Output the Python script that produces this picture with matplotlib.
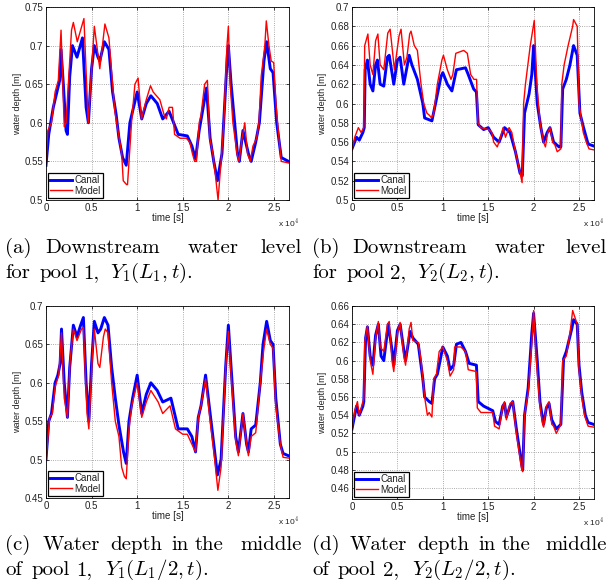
"""
plot.py - canal vs model water depth, two pools, four panels (a)-(d).
Writes out.png (610x588).
"""
import matplotlib

matplotlib.use("Agg")
import matplotlib.pyplot as plt

BLUE, RED = "#0000ff", "#ff0000"

# ---- (a) downstream level pool 1; times in units of 1e4 s
A_CANAL_T = [0, 0.03, 0.08, 0.12, 0.15, 0.165, 0.19, 0.22, 0.235, 0.26, 0.29, 0.34, 0.40,
             0.44, 0.465, 0.5, 0.53, 0.57, 0.59, 0.64, 0.69, 0.73, 0.77, 0.8, 0.84, 0.88,
             0.92, 1.0, 1.05, 1.1, 1.15, 1.22, 1.28, 1.35, 1.40, 1.45, 1.55, 1.6, 1.64,
             1.68, 1.76, 1.80, 1.84, 1.88, 1.93, 1.99, 2.0, 2.03, 2.1, 2.12, 2.16, 2.22,
             2.25, 2.3, 2.34, 2.39, 2.42, 2.46, 2.49, 2.53, 2.58, 2.66]
A_CANAL_Y = [0.545, 0.585, 0.62, 0.64, 0.655, 0.695, 0.65, 0.59, 0.585, 0.66, 0.70, 0.685,
             0.71, 0.62, 0.60, 0.67, 0.70, 0.685, 0.68, 0.705, 0.695, 0.64, 0.61, 0.58,
             0.555, 0.545, 0.60, 0.64, 0.605, 0.625, 0.635, 0.625, 0.605, 0.615, 0.60,
             0.585, 0.583, 0.57, 0.553, 0.59, 0.645, 0.58, 0.55, 0.525, 0.56, 0.69, 0.70,
             0.65, 0.56, 0.55, 0.59, 0.56, 0.55, 0.575, 0.60, 0.68, 0.705, 0.67, 0.665,
             0.60, 0.555, 0.55]
A_MODEL_T = [0, 0.02, 0.06, 0.1, 0.135, 0.165, 0.2, 0.22, 0.28, 0.30, 0.343, 0.416, 0.463,
             0.53, 0.59, 0.646, 0.69, 0.737, 0.755, 0.83, 0.847, 0.883, 0.894, 0.938, 0.975,
             1.01, 1.047, 1.10, 1.146, 1.175, 1.248, 1.296, 1.32, 1.35, 1.387, 1.41, 1.47,
             1.54, 1.577, 1.606, 1.63, 1.65, 1.68, 1.70, 1.74, 1.77, 1.796, 1.83, 1.86,
             1.887, 1.92, 1.95, 1.985, 2.0, 2.02, 2.05, 2.095, 2.117, 2.15, 2.18, 2.21,
             2.24, 2.27, 2.31, 2.336, 2.36, 2.40, 2.416, 2.445, 2.47, 2.497, 2.525, 2.555,
             2.58, 2.66]
A_MODEL_Y = [0.55, 0.59, 0.60, 0.64, 0.655, 0.72, 0.595, 0.60, 0.72, 0.73, 0.705, 0.735,
             0.60, 0.725, 0.67, 0.728, 0.71, 0.64, 0.615, 0.56, 0.525, 0.52, 0.52, 0.60,
             0.65, 0.658, 0.605, 0.63, 0.648, 0.64, 0.63, 0.61, 0.605, 0.62, 0.62, 0.585,
             0.58, 0.58, 0.575, 0.56, 0.55, 0.55, 0.60, 0.61, 0.65, 0.655, 0.58, 0.56, 0.53,
             0.50, 0.55, 0.60, 0.70, 0.725, 0.65, 0.60, 0.56, 0.55, 0.58, 0.60, 0.56, 0.55,
             0.57, 0.58, 0.60, 0.66, 0.70, 0.732, 0.70, 0.68, 0.678, 0.62, 0.58, 0.55, 0.548]

# ---- (b) downstream level pool 2
B_CANAL_T = [0, 0.05, 0.08, 0.12, 0.135, 0.145, 0.17, 0.2, 0.23, 0.26, 0.28, 0.31, 0.35,
             0.39, 0.41, 0.46, 0.5, 0.53, 0.57, 0.63, 0.66, 0.72, 0.78, 0.8, 0.88, 0.92,
             0.98, 1.0, 1.05, 1.1, 1.15, 1.25, 1.28, 1.34, 1.37, 1.39, 1.45, 1.5, 1.56,
             1.62, 1.68, 1.74, 1.8, 1.85, 1.875, 1.9, 1.95, 1.98, 2.0, 2.04, 2.08, 2.11,
             2.15, 2.18, 2.22, 2.28, 2.3, 2.32, 2.36, 2.4, 2.44, 2.46, 2.48, 2.51, 2.55,
             2.6, 2.66]
B_CANAL_Y = [0.553, 0.565, 0.562, 0.57, 0.575, 0.635, 0.645, 0.62, 0.613, 0.64, 0.645,
             0.62, 0.618, 0.648, 0.65, 0.62, 0.645, 0.648, 0.62, 0.65, 0.64, 0.625, 0.60,
             0.585, 0.582, 0.60, 0.628, 0.632, 0.62, 0.613, 0.635, 0.637, 0.63, 0.615,
             0.612, 0.578, 0.573, 0.575, 0.565, 0.56, 0.575, 0.57, 0.55, 0.528, 0.525,
             0.59, 0.61, 0.63, 0.66, 0.60, 0.575, 0.56, 0.57, 0.575, 0.56, 0.555, 0.555,
             0.615, 0.625, 0.64, 0.66, 0.655, 0.65, 0.59, 0.575, 0.558, 0.556]
B_MODEL_T = [0, 0.03, 0.07, 0.1, 0.13, 0.14, 0.175, 0.2, 0.23, 0.26, 0.285, 0.31, 0.35,
             0.394, 0.42, 0.467, 0.518, 0.54, 0.577, 0.605, 0.635, 0.65, 0.686, 0.72, 0.76,
             0.79, 0.825, 0.85, 0.876, 0.9, 0.94, 0.99, 1.007, 1.05, 1.09, 1.11, 1.143,
             1.23, 1.27, 1.307, 1.343, 1.372, 1.387, 1.416, 1.507, 1.54, 1.56, 1.6, 1.635,
             1.664, 1.69, 1.73, 1.76, 1.8, 1.847, 1.873, 1.89, 1.91, 1.963, 2.007, 2.036,
             2.07, 2.11, 2.13, 2.156, 2.18, 2.21, 2.235, 2.26, 2.3, 2.31, 2.336, 2.38,
             2.43, 2.44, 2.48, 2.50, 2.547, 2.58, 2.61, 2.66]
B_MODEL_Y = [0.552, 0.565, 0.575, 0.57, 0.575, 0.66, 0.672, 0.64, 0.63, 0.665, 0.672,
             0.64, 0.635, 0.673, 0.677, 0.635, 0.67, 0.677, 0.64, 0.648, 0.672, 0.675,
             0.66, 0.655, 0.62, 0.60, 0.59, 0.588, 0.585, 0.59, 0.62, 0.645, 0.65, 0.635,
             0.625, 0.63, 0.652, 0.655, 0.652, 0.63, 0.625, 0.625, 0.58, 0.575, 0.573,
             0.57, 0.56, 0.555, 0.565, 0.575, 0.565, 0.575, 0.57, 0.55, 0.53, 0.518, 0.60,
             0.62, 0.66, 0.686, 0.62, 0.58, 0.56, 0.555, 0.57, 0.575, 0.56, 0.557, 0.55,
             0.553, 0.62, 0.64, 0.66, 0.68, 0.687, 0.68, 0.60, 0.57, 0.56, 0.553, 0.552]

# ---- (c) mid-pool depth pool 1
C_CANAL_T = [0, 0.03, 0.06, 0.1, 0.13, 0.155, 0.17, 0.2, 0.235, 0.26, 0.3, 0.34, 0.38,
             0.41, 0.44, 0.47, 0.5, 0.53, 0.57, 0.6, 0.64, 0.68, 0.72, 0.76, 0.8, 0.85,
             0.88, 0.91, 0.95, 1.0, 1.05, 1.1, 1.15, 1.22, 1.28, 1.37, 1.42, 1.45, 1.55,
             1.6, 1.64, 1.67, 1.7, 1.75, 1.8, 1.84, 1.88, 1.92, 1.97, 2.0, 2.03, 2.08,
             2.11, 2.16, 2.2, 2.22, 2.25, 2.3, 2.35, 2.38, 2.42, 2.46, 2.49, 2.52, 2.57,
             2.6, 2.66]
C_CANAL_Y = [0.50, 0.55, 0.56, 0.60, 0.61, 0.625, 0.67, 0.60, 0.555, 0.62, 0.675, 0.66,
             0.675, 0.685, 0.60, 0.55, 0.625, 0.68, 0.665, 0.67, 0.685, 0.675, 0.62, 0.58,
             0.545, 0.51, 0.495, 0.55, 0.58, 0.61, 0.56, 0.585, 0.60, 0.59, 0.575, 0.58,
             0.555, 0.54, 0.54, 0.53, 0.51, 0.555, 0.57, 0.61, 0.56, 0.52, 0.48, 0.50,
             0.62, 0.675, 0.62, 0.53, 0.51, 0.56, 0.52, 0.51, 0.54, 0.545, 0.60, 0.65,
             0.68, 0.655, 0.65, 0.58, 0.52, 0.508, 0.505]
C_MODEL_T = [0, 0.04, 0.07, 0.1, 0.14, 0.17, 0.2, 0.235, 0.265, 0.3, 0.34, 0.39, 0.41,
             0.45, 0.47, 0.51, 0.53, 0.57, 0.59, 0.63, 0.65, 0.68, 0.72, 0.76, 0.8, 0.83,
             0.86, 0.88, 0.91, 0.94, 1.0, 1.05, 1.1, 1.15, 1.23, 1.28, 1.36, 1.42, 1.5,
             1.55, 1.6, 1.64, 1.67, 1.7, 1.75, 1.8, 1.85, 1.885, 1.92, 1.97, 2.0, 2.03,
             2.08, 2.11, 2.16, 2.2, 2.22, 2.25, 2.3, 2.35, 2.39, 2.42, 2.46, 2.49, 2.52,
             2.57, 2.6, 2.66]
C_MODEL_Y = [0.50, 0.555, 0.56, 0.595, 0.61, 0.665, 0.58, 0.555, 0.63, 0.67, 0.655, 0.67,
             0.672, 0.56, 0.54, 0.64, 0.67, 0.625, 0.62, 0.66, 0.67, 0.665, 0.60, 0.55,
             0.53, 0.49, 0.478, 0.475, 0.54, 0.57, 0.60, 0.555, 0.575, 0.59, 0.575, 0.56,
             0.57, 0.54, 0.533, 0.533, 0.52, 0.51, 0.555, 0.57, 0.605, 0.55, 0.50, 0.46,
             0.49, 0.62, 0.667, 0.61, 0.525, 0.505, 0.56, 0.52, 0.505, 0.53, 0.535, 0.60,
             0.645, 0.67, 0.65, 0.645, 0.57, 0.52, 0.503, 0.502]

# ---- (d) mid-pool depth pool 2
D_CANAL_T = [0, 0.05, 0.08, 0.12, 0.13, 0.15, 0.17, 0.2, 0.23, 0.26, 0.29, 0.32, 0.35,
             0.4, 0.45, 0.46, 0.5, 0.53, 0.57, 0.59, 0.64, 0.67, 0.73, 0.78, 0.8, 0.85,
             0.88, 0.91, 0.94, 1.0, 1.05, 1.08, 1.12, 1.15, 1.2, 1.25, 1.29, 1.37, 1.39,
             1.45, 1.55, 1.58, 1.62, 1.66, 1.68, 1.7, 1.74, 1.77, 1.81, 1.84, 1.87, 1.88,
             1.9, 1.94, 1.98, 2.0, 2.04, 2.07, 2.1, 2.11, 2.14, 2.17, 2.2, 2.25, 2.3, 2.33,
             2.36, 2.42, 2.44, 2.48, 2.5, 2.53, 2.57, 2.6, 2.66]
D_CANAL_Y = [0.525, 0.55, 0.54, 0.55, 0.555, 0.625, 0.637, 0.605, 0.595, 0.628, 0.64,
             0.605, 0.60, 0.64, 0.605, 0.595, 0.633, 0.64, 0.612, 0.60, 0.632, 0.625,
             0.618, 0.58, 0.56, 0.555, 0.553, 0.58, 0.585, 0.615, 0.605, 0.59, 0.595,
             0.618, 0.62, 0.61, 0.597, 0.595, 0.555, 0.55, 0.545, 0.533, 0.53, 0.55,
             0.553, 0.538, 0.55, 0.555, 0.525, 0.505, 0.485, 0.48, 0.54, 0.57, 0.63,
             0.652, 0.60, 0.555, 0.535, 0.53, 0.548, 0.553, 0.535, 0.525, 0.53, 0.602,
             0.61, 0.635, 0.645, 0.64, 0.595, 0.565, 0.54, 0.532, 0.53]
D_MODEL_T = [0, 0.03, 0.06, 0.08, 0.12, 0.13, 0.14, 0.17, 0.2, 0.23, 0.26, 0.29, 0.31,
             0.35, 0.39, 0.41, 0.44, 0.46, 0.5, 0.53, 0.57, 0.59, 0.63, 0.65, 0.67, 0.73,
             0.76, 0.78, 0.8, 0.83, 0.85, 0.88, 0.9, 0.93, 0.96, 1.0, 1.05, 1.08, 1.12,
             1.13, 1.2, 1.25, 1.28, 1.37, 1.38, 1.42, 1.55, 1.57, 1.62, 1.66, 1.68, 1.7,
             1.74, 1.77, 1.81, 1.84, 1.87, 1.88, 1.9, 1.94, 1.98, 2.0, 2.03, 2.07, 2.1,
             2.11, 2.14, 2.17, 2.2, 2.22, 2.25, 2.3, 2.32, 2.36, 2.4, 2.43, 2.48, 2.5,
             2.53, 2.56, 2.6, 2.66]
D_MODEL_Y = [0.525, 0.545, 0.555, 0.54, 0.555, 0.558, 0.62, 0.638, 0.60, 0.585, 0.625,
             0.643, 0.615, 0.61, 0.64, 0.643, 0.60, 0.588, 0.63, 0.642, 0.605, 0.595,
             0.635, 0.642, 0.622, 0.62, 0.60, 0.58, 0.56, 0.54, 0.543, 0.538, 0.58, 0.585,
             0.61, 0.615, 0.60, 0.583, 0.59, 0.615, 0.615, 0.61, 0.59, 0.588, 0.548, 0.543,
             0.543, 0.528, 0.525, 0.55, 0.555, 0.535, 0.553, 0.555, 0.52, 0.50, 0.48,
             0.478, 0.54, 0.565, 0.62, 0.655, 0.60, 0.55, 0.53, 0.527, 0.55, 0.555, 0.53,
             0.528, 0.52, 0.53, 0.60, 0.605, 0.63, 0.655, 0.64, 0.59, 0.56, 0.54, 0.528,
             0.527]

Y_TICKS_A = [0.5, 0.55, 0.6, 0.65, 0.7, 0.75]
Y_TICKS_B = [0.5, 0.52, 0.54, 0.56, 0.58, 0.6, 0.62, 0.64, 0.66, 0.68, 0.7]
Y_TICKS_C = [0.45, 0.5, 0.55, 0.6, 0.65, 0.7]
Y_TICKS_D = [0.46, 0.48, 0.5, 0.52, 0.54, 0.56, 0.58, 0.6, 0.62, 0.64, 0.66]
X_TICKS = [0, 0.5, 1, 1.5, 2, 2.5]
X_MAX = 2.665

# caption words (line 1, line 2), set word by word like the justified LaTeX text
CAP_A = (["(a)", "Downstream", "water", "level"], ["for", "pool", "1,", "$Y_1(L_1,t)$."])
CAP_B = (["(b)", "Downstream", "water", "level"], ["for", "pool", "2,", "$Y_2(L_2,t)$."])
CAP_C = (["(c)", "Water", "depth", "in", "the", "middle"],
         ["of", "pool", "1,", "$Y_1(L_1/2,t)$."])
CAP_D = (["(d)", "Water", "depth", "in", "the", "middle"],
         ["of", "pool", "2,", "$Y_2(L_2/2,t)$."])

PANELS = [
    ("a", A_CANAL_T, A_CANAL_Y, A_MODEL_T, A_MODEL_Y, (0.5, 0.75), Y_TICKS_A, CAP_A),
    ("b", B_CANAL_T, B_CANAL_Y, B_MODEL_T, B_MODEL_Y, (0.5, 0.7), Y_TICKS_B, CAP_B),
    ("c", C_CANAL_T, C_CANAL_Y, C_MODEL_T, C_MODEL_Y, (0.45, 0.7), Y_TICKS_C, CAP_C),
    ("d", D_CANAL_T, D_CANAL_Y, D_MODEL_T, D_MODEL_Y, (0.448, 0.66), Y_TICKS_D, CAP_D),
]

W, H = 610, 588
# axes rectangles in pixels: left, top, right, bottom
RECTS = {"a": (46, 7, 289, 200), "b": (352, 7, 594, 200),
         "c": (46, 306, 289, 498), "d": (352, 306, 594, 499)}
# caption word x positions (px, relative to column start); last word of line 1
# is right-aligned to the column end (justified)
X1_DOWN = [0, 40, 183]
X1_DEPTH = [0, 38, 105, 166, 190]
X2_FOR = [0, 34, 78, 105]
X2_OF = [0, 26, 71, 100]
COL_X = {"a": 5, "b": 312, "c": 5, "d": 312}
COL_END = {"a": 302, "b": 607, "c": 302, "d": 607}
BASE = {"a": (253, 278), "b": (253, 278), "c": (550, 575), "d": (550, 575)}

plt.rcParams["mathtext.fontset"] = "cm"
SANS = ["Liberation Sans", "DejaVu Sans"]
SERIF = ["cmr10", "DejaVu Serif"]


def caption(fig, x, base, word, ha="left"):
    fig.text(x / W, 1 - base / H, word, family=SERIF, fontsize=15, va="baseline", ha=ha)


def draw(fig, key, ct, cy, mt, my, ylim, yticks, cap):
    l, t, r, b = RECTS[key]
    ax = fig.add_axes([l / W, 1 - b / H, (r - l) / W, (b - t) / H])
    ax.plot(ct, cy, color=BLUE, lw=2.1, label="Canal")
    ax.plot(mt, my, color=RED, lw=1.0, label="Model")
    ax.set_xlim(0, X_MAX)
    ax.set_ylim(*ylim)
    ax.set_xticks(X_TICKS)
    ax.set_xticklabels([f"{v:g}" for v in X_TICKS])
    ax.set_yticks(yticks)
    ax.set_yticklabels([f"{v:g}" for v in yticks])
    ax.grid(True, ls=":", color="#909090", lw=0.6)
    ax.tick_params(direction="in", top=True, right=True, length=2.5, width=0.5,
                   labelsize=7, pad=2, labelcolor="#222222")
    for lab in ax.get_xticklabels() + ax.get_yticklabels():
        lab.set_family(SANS)
    for s in ax.spines.values():
        s.set_linewidth(0.6)
    ax.set_xlabel("time [s]", fontsize=7, family=SANS, labelpad=0, color="#222222")
    ax.set_ylabel("water depth [m]", fontsize=6.5, family=SANS, labelpad=2, color="#222222")
    ax.text(1.0, -0.085, "x 10$^4$", transform=ax.transAxes, fontsize=6, family=SANS,
            ha="center", va="top", color="#222222")
    leg = ax.legend(loc="lower left", prop={"family": SANS, "size": 7},
                    fancybox=False, framealpha=1, edgecolor="black", borderaxespad=0.25,
                    handlelength=2.2, borderpad=0.2, labelspacing=0.05, handletextpad=0.3)
    leg.get_frame().set_linewidth(0.9)
    for txt in leg.get_texts():
        txt.set_color("#222222")

    line1, line2 = cap
    x1 = X1_DOWN if len(line1) == 4 else X1_DEPTH
    x2 = X2_FOR if line2[0] == "for" else X2_OF
    b1, b2 = BASE[key]
    x0 = COL_X[key]
    for wd, xw in zip(line1[:-1], x1):
        caption(fig, x0 + xw, b1, wd)
    caption(fig, COL_END[key], b1, line1[-1], ha="right")
    for wd, xw in zip(line2, x2):
        caption(fig, x0 + xw, b2, wd)


def main():
    fig = plt.figure(figsize=(W / 100, H / 100), dpi=100, facecolor="white")
    for key, ct, cy, mt, my, ylim, yticks, cap in PANELS:
        draw(fig, key, ct, cy, mt, my, ylim, yticks, cap)
    fig.savefig("out.png", dpi=100, facecolor="white")
    plt.close(fig)


if __name__ == "__main__":
    main()
